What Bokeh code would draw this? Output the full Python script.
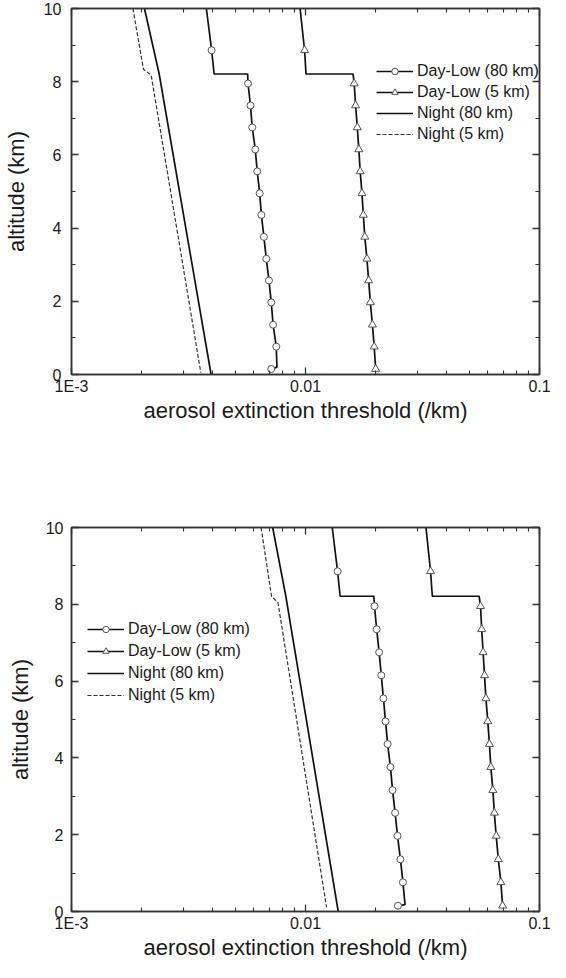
from bokeh.plotting import figure
from bokeh.models import Range1d, FixedTicker, LogAxis, LinearAxis, Legend, LegendItem
from bokeh.layouts import column
from bokeh.embed import file_html
from bokeh.resources import INLINE

# ---------------- data ----------------
x_ticks = [0.001, 0.01, 0.1]
x_tick_labels = {0.001: "1E-3", 0.01: "0.01", 0.1: "0.1"}
x_minor = [0.002, 0.003, 0.004, 0.005, 0.006, 0.007, 0.008, 0.009,
           0.02, 0.03, 0.04, 0.05, 0.06, 0.07, 0.08, 0.09]
y_ticks = [0, 2, 4, 6, 8, 10]
y_minor = [1, 3, 5, 7, 9]

labels = ["Day-Low (80 km)", "Day-Low (5 km)", "Night (80 km)", "Night (5 km)"]

marker_alt = [8.86, 7.95, 7.35, 6.75, 6.15, 5.55, 4.95, 4.36, 3.76, 3.16, 2.57, 1.97, 1.36, 0.76, 0.15]

# top panel
t_d80_alt = [10, 8.86, 8.21, 8.21, 7.95, 7.35, 6.75, 6.15, 5.55, 4.95, 4.36, 3.76, 3.16, 2.57, 1.97, 1.36, 0.76, 0.2, 0.15]
t_d80_x = [0.00377, 0.00397, 0.00407, 0.00566, 0.00568, 0.00582, 0.00592, 0.0061, 0.00622, 0.00637, 0.00648,
           0.00664, 0.0068, 0.00698, 0.00714, 0.00727, 0.0075, 0.00755, 0.00714]
t_d80_mx = [0.00397, 0.00568, 0.00582, 0.00592, 0.0061, 0.00622, 0.00637, 0.00648, 0.00664, 0.0068, 0.00698,
            0.00714, 0.00727, 0.0075, 0.00714]

t_d5_alt = [10, 8.86, 8.21, 8.21, 7.95, 7.35, 6.75, 6.15, 5.55, 4.95, 4.36, 3.76, 3.16, 2.57, 1.97, 1.36, 0.76, 0.15]
t_d5_x = [0.00948, 0.00991, 0.01005, 0.01597, 0.01614, 0.01637, 0.01665, 0.0169, 0.01713, 0.01743, 0.01767,
          0.01792, 0.0183, 0.01862, 0.01893, 0.01932, 0.01966, 0.01995]
t_d5_mx = [0.00991, 0.01614, 0.01637, 0.01665, 0.0169, 0.01713, 0.01743, 0.01767, 0.01792, 0.0183, 0.01862,
           0.01893, 0.01932, 0.01966, 0.01995]

t_n80_alt = [10, 8.21, 0]
t_n80_x = [0.00205, 0.00237, 0.00395]
t_n5_alt = [10, 8.34, 8.18, 0.05]
t_n5_x = [0.00183, 0.00203, 0.00219, 0.00357]

# bottom panel
b_d80_alt = [10, 8.86, 8.21, 8.21, 7.95, 7.35, 6.75, 6.15, 5.55, 4.95, 4.36, 3.76, 3.16, 2.57, 1.97, 1.36, 0.76, 0.18, 0.15]
b_d80_x = [0.01301, 0.01371, 0.01406, 0.01959, 0.01972, 0.02014, 0.02064, 0.02108, 0.02153, 0.02198, 0.02244,
           0.02307, 0.02355, 0.02415, 0.02473, 0.02545, 0.02608, 0.02663, 0.02484]
b_d80_mx = [0.01371, 0.01972, 0.02014, 0.02064, 0.02108, 0.02153, 0.02198, 0.02244, 0.02307, 0.02355, 0.02415,
            0.02473, 0.02545, 0.02608, 0.02484]

b_d5_alt = [10, 8.86, 8.21, 8.21, 7.95, 7.35, 6.75, 6.15, 5.55, 4.95, 4.36, 3.76, 3.16, 2.57, 1.97, 1.36, 0.76, 0.15]
b_d5_x = [0.03272, 0.03423, 0.03483, 0.05521, 0.05598, 0.05662, 0.05741, 0.05821, 0.05902, 0.06012, 0.0611,
          0.06194, 0.0632, 0.06412, 0.06531, 0.06668, 0.06839, 0.06955]
b_d5_mx = [0.03423, 0.05598, 0.05662, 0.05741, 0.05821, 0.05902, 0.06012, 0.0611, 0.06194, 0.0632, 0.06412,
           0.06531, 0.06668, 0.06839, 0.06955]

b_n80_alt = [10, 8.21, 0]
b_n80_x = [0.00724, 0.00824, 0.0138]
b_n5_alt = [10, 8.21, 8.04, 0.11]
b_n5_x = [0.00646, 0.00716, 0.00763, 0.0123]

FONT = "Liberation Sans"
AX = "#333333"
W = 556


def style_axis(ax, show_labels, standoff=6):
    ax.axis_line_color = AX
    ax.axis_line_width = 1.5
    ax.major_tick_line_color = AX
    ax.minor_tick_line_color = AX
    ax.major_tick_line_width = 1.3
    ax.minor_tick_line_width = 1.1
    ax.major_tick_in = 7
    ax.major_tick_out = 0
    ax.minor_tick_in = 4
    ax.minor_tick_out = 0
    ax.major_label_text_font = FONT
    ax.major_label_text_color = "#1a1a1a"
    ax.axis_label_text_font = FONT
    ax.axis_label_text_color = "#1a1a1a"
    ax.axis_label_text_font_style = "normal"
    if show_labels:
        ax.major_label_text_font_size = "16px"
        ax.axis_label_text_font_size = "22px"
        ax.major_label_standoff = standoff
    else:
        ax.major_label_text_font_size = "1px"
        ax.major_label_text_color = None
        ax.major_label_standoff = 0


def panel(height, mb_left, mb_right, mb_top, mb_bottom, d80, d5, n80, n5,
          legend_loc, ystand, ytitle_stand, leg_spacing):
    p = figure(width=W, height=height, x_axis_type="log",
               x_range=Range1d(0.001, 0.1), y_range=Range1d(0, 10),
               output_backend="svg", toolbar_location=None,
               min_border_left=mb_left, min_border_right=mb_right,
               min_border_top=mb_top, min_border_bottom=mb_bottom)
    p.grid.visible = False
    p.outline_line_color = AX
    p.outline_line_width = 1.5
    p.background_fill_color = "white"
    p.border_fill_color = "white"

    xt = FixedTicker(ticks=x_ticks, minor_ticks=x_minor)
    yt = FixedTicker(ticks=y_ticks, minor_ticks=y_minor)

    p.xaxis.ticker = xt
    p.xaxis.major_label_overrides = x_tick_labels
    p.xaxis.axis_label = "aerosol extinction threshold (/km)"
    p.yaxis.ticker = yt
    p.yaxis.axis_label = "altitude (km)"
    style_axis(p.xaxis[0], True, 3)
    style_axis(p.yaxis[0], True, ystand)
    p.xaxis.axis_label_standoff = 0
    p.yaxis.axis_label_standoff = ytitle_stand

    top = LogAxis(ticker=xt)
    style_axis(top, False)
    p.add_layout(top, "above")
    right = LinearAxis(ticker=yt)
    style_axis(right, False)
    p.add_layout(right, "right")

    (ax80, ay80, mx80), (ax5, ay5, mx5) = d80, d5
    l1 = p.line(ax80, ay80, line_color="#111111", line_width=1.7)
    s1 = p.scatter(mx80, marker_alt, marker="circle", size=7, fill_color="white",
                   line_color="#555555", line_width=1)
    l2 = p.line(ax5, ay5, line_color="#111111", line_width=1.7)
    s2 = p.scatter(mx5, marker_alt, marker="triangle", size=8, fill_color="white",
                   line_color="#555555", line_width=1)
    l3 = p.line(n80[0], n80[1], line_color="#111111", line_width=1.7)
    l4 = p.line(n5[0], n5[1], line_color="#333333", line_width=1.2, line_dash="4 2")

    leg = Legend(items=[LegendItem(label=labels[0], renderers=[l1, s1]),
                        LegendItem(label=labels[1], renderers=[l2, s2]),
                        LegendItem(label=labels[2], renderers=[l3]),
                        LegendItem(label=labels[3], renderers=[l4])],
                 location=legend_loc, border_line_color=None, background_fill_alpha=0,
                 padding=0, margin=0, spacing=leg_spacing, glyph_width=37, glyph_height=16,
                 label_height=16, label_standoff=4, label_text_font=FONT,
                 label_text_font_size="16px", label_text_color="#1a1a1a")
    p.add_layout(leg, "center")
    return p


H1 = 470
# top panel: frame x 75..553, y 16..382.5 (page)
p1 = panel(H1, 67, W - 545, 8, H1 - 374,
           (t_d80_x, t_d80_alt, t_d80_mx), (t_d5_x, t_d5_alt, t_d5_mx),
           (t_n80_x, t_n80_alt), (t_n5_x, t_n5_alt), (305, 231), 10, 12, 3)
# bottom panel: frame x 70.5..547, y 535.5..922.7 (page)
H2 = 962 - H1
p2 = panel(H2, 62, W - 539, 535 - 8 - H1, 47,
           (b_d80_x, b_d80_alt, b_d80_mx), (b_d5_x, b_d5_alt, b_d5_mx),
           (b_n80_x, b_n80_alt), (b_n5_x, b_n5_alt), (16, 207), 8, 10, 4)

layout = column(p1, p2, spacing=0)
open("out.html", "w").write(file_html(layout, INLINE))
